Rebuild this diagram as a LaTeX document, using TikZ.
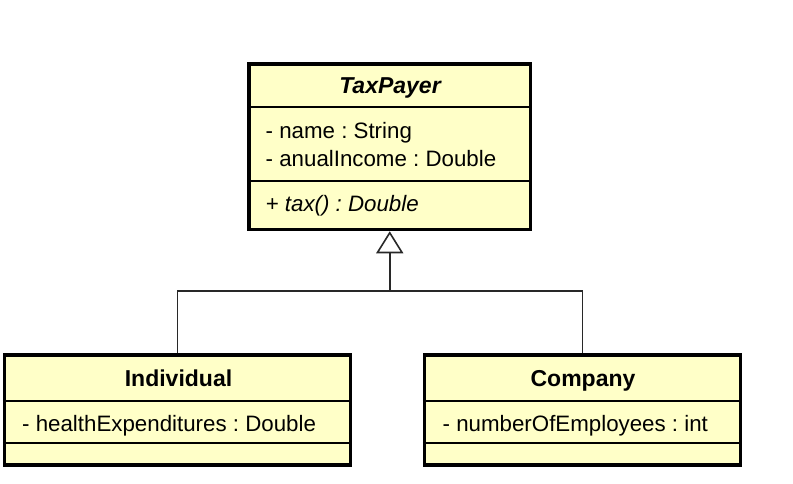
\documentclass[tikz,border=0pt]{standalone}
\usepackage{fontspec}
\setmainfont{Liberation Sans}
\usetikzlibrary{arrows.meta}
\definecolor{classfill}{RGB}{255,255,200}
\definecolor{linkgray}{RGB}{40,40,40}
\frenchspacing
\begin{document}
\begin{tikzpicture}[x=1pt,y=-1pt,
  classbox/.style={draw=black, line width=3.5pt, fill=classfill, rectangle, inner sep=0pt},
  divider/.style={draw=black, line width=1.6pt},
  title/.style={inner sep=0pt, anchor=base, font=\fontsize{23}{27}\selectfont\bfseries},
  member/.style={inner sep=0pt, anchor=base west, font=\fontsize{22.3}{27}\selectfont},
  link/.style={draw=linkgray, line width=1.6pt},
  generalization/.style={link, -{Triangle[open, fill=white, length=22pt, width=27pt]}}]
\useasboundingbox (0,0) rectangle (793,484);

% abstract class
\node[classbox, minimum width=281.5pt, minimum height=165.5pt] (tp) at (389.75,146.75) {};
\draw[divider] (tp.west |- 0,107) -- (tp.east |- 0,107);
\draw[divider] (tp.west |- 0,181) -- (tp.east |- 0,181);
\node[title] (tpname) at (390,93.3) {\itshape TaxPayer};
\node[member] (tpa1) at (265.5,139) {- name : String};
\node[member] (tpa2) at (265.5,166.5) {- anualIncome : Double};
\node[member] (tpm1) at (265.5,211.7) {\itshape + tax() : Double};

% subclasses
\node[classbox, minimum width=346pt, minimum height=110pt] (ind) at (177.5,410) {};
\draw[divider] (ind.west |- 0,401) -- (ind.east |- 0,401);
\draw[divider] (ind.west |- 0,443) -- (ind.east |- 0,443);
\node[title] (indname) at (178.5,386.7) {Individual};
\node[member] (inda1) at (22,431.7) {- healthExpenditures : Double};

\node[classbox, minimum width=316pt, minimum height=110pt] (comp) at (582.5,410) {};
\draw[divider] (comp.west |- 0,401) -- (comp.east |- 0,401);
\draw[divider] (comp.west |- 0,443) -- (comp.east |- 0,443);
\node[title] (compname) at (583,386.7) {Company};
\node[member] (compa1) at (442.5,431.7) {- numberOfEmployees : int};

% generalization
\coordinate (join) at (389.75,291);
\draw[link] (ind.north) |- (join) -| (comp.north);
\draw[generalization] (join) -- (tp.south);
\end{tikzpicture}
\end{document}
